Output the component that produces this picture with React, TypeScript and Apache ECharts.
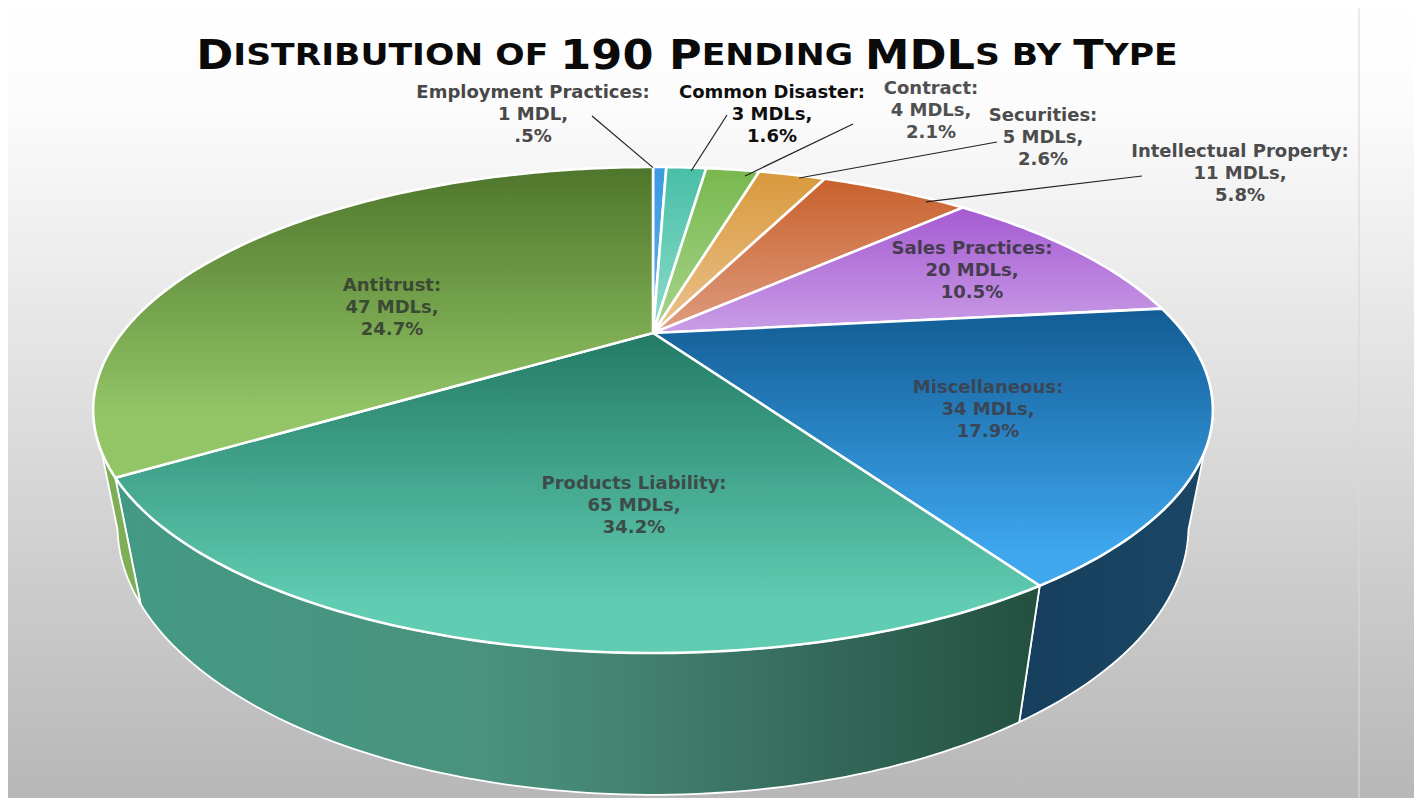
import React, { useEffect, useRef } from "react";
import * as echarts from "echarts";

// ---- data ----
const categories = ["Employment Practices", "Common Disaster", "Contract", "Securities", "Intellectual Property", "Sales Practices", "Miscellaneous", "Products Liability", "Antitrust"];
const mdlLabels = ["1 MDL,", "3 MDLs,", "4 MDLs,", "5 MDLs,", "11 MDLs,", "20 MDLs,", "34 MDLs,", "65 MDLs,", "47 MDLs,"];
const percentLabels = [".5%", "1.6%", "2.1%", "2.6%", "5.8%", "10.5%", "17.9%", "34.2%", "24.7%"];
// sizes of the slices as drawn (the source picture draws teal at 47 and green at 65)
const sliceSizes = [1, 3, 4, 5, 11, 20, 34, 47, 65];

// ---- styles ----
const topColors: [string, string, number][] = [
  ["#3a9be2", "#5db0ea", 1], ["#48bfa6", "#8edccb", 1], ["#78b84e", "#a8d58c", 1], ["#d8993c", "#ebc28e", 1],
  ["#c8612c", "#df9c80", 1], ["#a55bd2", "#c99de6", 1], ["#125c94", "#3ea7ee", 0.88], ["#237a65", "#60ccb1", 0.84], ["#4e762c", "#93c566", 0.8],
];
const sideStops: [number, string][][] = [
  [[0, "#1c4a6a"], [1, "#1c4a6a"]], [[0, "#24503f"], [1, "#24503f"]], [[0, "#3c6028"], [1, "#3c6028"]],
  [[0, "#80582a"], [1, "#80582a"]], [[0, "#70381c"], [1, "#70381c"]], [[0, "#5a3070"], [1, "#5a3070"]],
  [[0, "#153f5c"], [1, "#1b4766"]],
  [[0, "#439a84"], [0.4, "#4a927e"], [0.55, "#448272"], [0.75, "#356b5c"], [1, "#23503f"]],
  [[0, "#7eae55"], [1, "#7eae55"]],
];
const labelColors = ["#484848", "#0e0e0e", "#505050", "#4c4c4c", "#4c4c4c", "#463c50", "#3a4656", "#3c4c48", "#3c4a34"];
// centre x and middle-line y of each label
const labelPos = [[533, 113], [772, 113], [931, 109], [1043, 136], [1240, 172], [972, 269], [988, 408], [634, 504], [392, 306]];
// leader: outer end, place along the slice's arc (0..1), radius
const leaders: ([number, number, number, number] | null)[] = [
  [592, 116, 0, 0.995], [727, 115, 0.64, 0.973], [853, 124, 0.79, 0.957], [997, 142, 0.64, 0.981], [1142, 176, 0.766, 0.975],
  null, null, null, null,
];

// ---- perspective of the disc ----
const APEX_X = 653, APEX_Y = 333, K_X = 531, K_Y = 218.6, TILT = 0.3169, DROP_W = 0.041, DROP_Y = 115.8;
const FRONT_FROM = Math.acos(-TILT);
const FRONT_TO = 2 * Math.PI - FRONT_FROM;
function project(theta: number, r: number, z: number): [number, number] {
  const x = Math.sin(theta) * r, y = Math.cos(theta) * r;
  const w = 1 + TILT * y + DROP_W * z;
  return [APEX_X + (K_X * x) / w, APEX_Y + (-K_Y * y + DROP_Y * z) / w];
}
const total = sliceSizes.reduce((a, b) => a + b, 0);
function sliceRange(i: number): [number, number] {
  const before = sliceSizes.slice(0, i).reduce((a, b) => a + b, 0);
  return [(before / total) * 2 * Math.PI, ((before + sliceSizes[i]) / total) * 2 * Math.PI];
}
function arc(a: number, b: number, z: number): [number, number][] {
  const n = Math.max(4, Math.ceil(((b - a) * 180) / Math.PI));
  const pts: [number, number][] = [];
  for (let k = 0; k <= n; k++) pts.push(project(a + ((b - a) * k) / n, 1, z));
  return pts;
}

const LABEL_FONT = 'bold 18px "DejaVu Sans"';

export default function App() {
  const ref = useRef<HTMLDivElement>(null);
  useEffect(() => {
    const chart = echarts.init(ref.current!, undefined, { renderer: "svg" });
    const data = sliceSizes.map((v) => [v]);
    const big = { fontFamily: "DejaVu Sans", fontWeight: "bold" as const, fontSize: 40, fill: "#0a0a0a" };
    const small = { ...big, fontSize: 31 };
    chart.setOption({
      animation: false,
      backgroundColor: "#ffffff",
      graphic: [
        {
          type: "rect", z: -10, silent: true,
          shape: { x: 8, y: 0, width: 1406, height: 798 },
          style: {
            fill: new echarts.graphic.LinearGradient(0, 0, 0, 1, [
              { offset: 0, color: "#ffffff" }, { offset: 0.13, color: "#fcfcfc" }, { offset: 1, color: "#b7b7b7" },
            ]),
          },
        },
        {
          type: "rect", z: -9, silent: true,
          shape: { x: 1358, y: 8, width: 2, height: 790 },
          style: {
            fill: new echarts.graphic.LinearGradient(0, 0, 0, 1, [
              { offset: 0, color: "#ebebeb" }, { offset: 1, color: "#cbcbcb" },
            ]),
          },
        },
        {
          type: "text", z: 10, silent: true,
          x: 687, y: 55, scaleX: 1.115,
          style: {
            text: "{a|D}{b|ISTRIBUTION OF }{a|190 P}{b|ENDING }{a|MDL}{b|S BY }{a|T}{b|YPE}",
            align: "center", verticalAlign: "middle",
            rich: { a: big, b: small },
          },
        },
      ],
      series: [
        {
          type: "custom", coordinateSystem: "none", silent: true, data, z: 2,
          renderItem: (p: any, api: any) => {
            if (!(api.value(0) > 0)) return null;
            const i = p.dataIndex;
            const [s, e] = sliceRange(i);
            const a = Math.max(s, FRONT_FROM), b = Math.min(e, FRONT_TO);
            if (a >= b) return null;
            const pts = [...arc(a, b, 0), ...arc(a, b, 1).reverse()];
            return {
              type: "polygon",
              shape: { points: pts },
              style: {
                fill: new echarts.graphic.LinearGradient(0, 0, 1, 0, sideStops[i].map(([offset, color]) => ({ offset, color }))),
                stroke: "#ffffff", lineWidth: 1.8, lineJoin: "round",
              },
            };
          },
        },
        {
          type: "custom", coordinateSystem: "none", silent: true, data, z: 3,
          renderItem: (p: any, api: any) => {
            if (!(api.value(0) > 0)) return null;
            const i = p.dataIndex;
            const [s, e] = sliceRange(i);
            const pts = [[APEX_X, APEX_Y], ...arc(s, e, 0)];
            const stops = [
              { offset: 0, color: topColors[i][0] },
              { offset: topColors[i][2], color: topColors[i][1] },
            ];
            if (topColors[i][2] < 1) stops.push({ offset: 1, color: topColors[i][1] });
            return {
              type: "polygon",
              shape: { points: pts },
              style: {
                fill: new echarts.graphic.LinearGradient(0, 0, 0, 1, stops),
                stroke: "#ffffff", lineWidth: 2.6, lineJoin: "round",
              },
            };
          },
        },
        {
          type: "custom", coordinateSystem: "none", silent: true, data, z: 4,
          renderItem: (p: any) => {
            const i = p.dataIndex;
            const children: any[] = [];
            const l = leaders[i];
            if (l) {
              const [a, b] = sliceRange(i);
              const [ex, ey] = project(a + (b - a) * l[2], l[3], 0);
              children.push({
                type: "line",
                shape: { x1: l[0], y1: l[1], x2: ex, y2: ey },
                style: { stroke: "#222222", lineWidth: 1.2 },
              });
            }
            children.push({
              type: "text",
              x: labelPos[i][0], y: labelPos[i][1],
              style: {
                text: `${categories[i]}:\n${mdlLabels[i]}\n${percentLabels[i]}`,
                fill: labelColors[i], font: LABEL_FONT, lineHeight: 22,
                align: "center", verticalAlign: "middle",
              },
            });
            return { type: "group", children };
          },
        },
      ],
    });
    return () => chart.dispose();
  }, []);
  return <div ref={ref} style={{ position: "absolute", left: 0, top: 0, width: 1414, height: 798 }} />;
}
